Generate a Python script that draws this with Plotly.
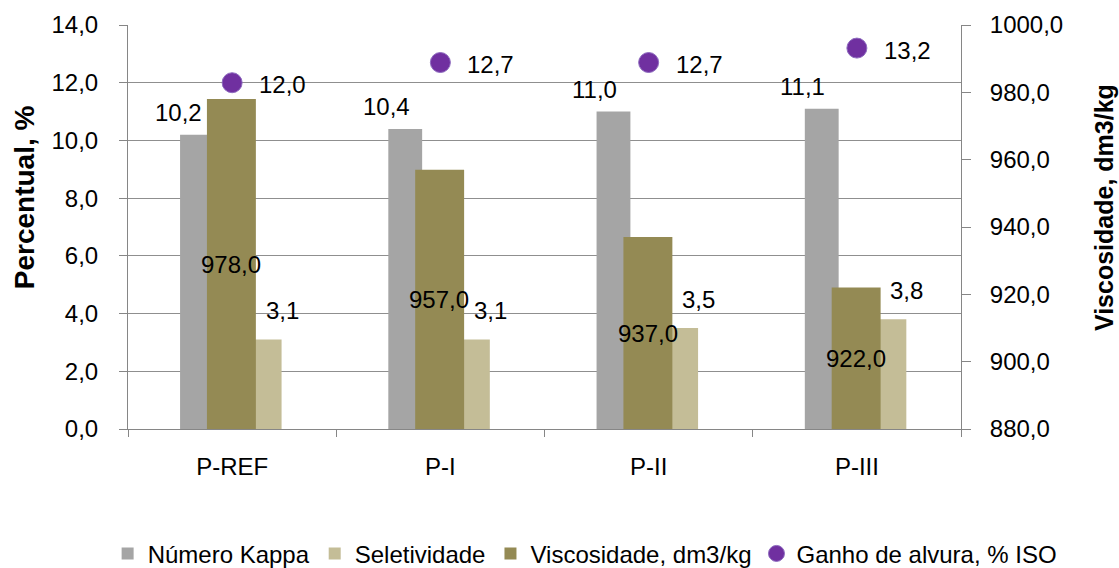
import plotly.graph_objects as go

# Pulp bleaching results per sequence
categories = ["P-REF", "P-I", "P-II", "P-III"]
numero_kappa = [10.2, 10.4, 11.0, 11.1]
seletividade = [3.1, 3.1, 3.5, 3.8]
viscosidade = [978.0, 957.0, 937.0, 922.0]
ganho_alvura = [12.0, 12.7, 12.7, 13.2]

left_ticks = [0, 2, 4, 6, 8, 10, 12, 14]
right_ticks = [880, 900, 920, 940, 960, 980, 1000]

FONT = "Liberation Sans, Arial, sans-serif"
AXIS_GRAY = "#868686"
GRID_GRAY = "#8f8f8f"
C_KAPPA = "#A5A5A5"
C_SELET = "#C4BD97"
C_VISC = "#948A54"
C_GANHO = "#7030A0"

SLOT = 0.1625  # width of one primary-axis bar slot (category units)


def fmt(v):
    return f"{v:.1f}".replace(".", ",")


fig = go.Figure()

fig.add_trace(go.Bar(
    name="Número Kappa", x=categories, y=numero_kappa,
    marker=dict(color=C_KAPPA, line=dict(width=0)),
    width=SLOT, offset=-0.25, yaxis="y",
))
fig.add_trace(go.Bar(
    name="Seletividade", x=categories, y=seletividade,
    marker=dict(color=C_SELET, line=dict(width=0)),
    width=SLOT, offset=-0.25 + 2 * SLOT, yaxis="y",
))
fig.add_trace(go.Bar(
    name="Viscosidade, dm3/kg", x=categories,
    y=[v - 880 for v in viscosidade], base=880,
    marker=dict(color=C_VISC, line=dict(width=0)),
    width=0.235, offset=-0.121, yaxis="y2",
))
fig.add_trace(go.Scatter(
    name="Ganho de alvura, % ISO", x=categories, y=ganho_alvura,
    mode="markers",
    marker=dict(color=C_GANHO, size=20, line=dict(color="#8E6BBF", width=1)),
    yaxis="y",
))

annotations = []
lab_font = dict(family=FONT, size=24, color="#000000")
for c, v in zip(categories, numero_kappa):
    annotations.append(dict(x=c, y=v, xref="x", yref="y", text=fmt(v),
                            showarrow=False, xshift=-54, yshift=22,
                            font=lab_font))
for c, v in zip(categories, seletividade):
    annotations.append(dict(x=c, y=v, xref="x", yref="y", text=fmt(v),
                            showarrow=False, xshift=50, yshift=29,
                            font=lab_font))
for c, v in zip(categories, viscosidade):
    annotations.append(dict(x=c, y=(880 + v) / 2, xref="x", yref="y2",
                            text=fmt(v), showarrow=False, xshift=-1,
                            font=lab_font))
for c, v in zip(categories, ganho_alvura):
    annotations.append(dict(x=c, y=v, xref="x", yref="y", text=fmt(v),
                            showarrow=False, xanchor="left", xshift=25,
                            yshift=-2, font=lab_font))

# Axis titles
annotations.append(dict(x=-0.124, y=0.573, xref="paper", yref="paper",
                        xanchor="center", yanchor="middle",
                        text="<b>Percentual, %</b>", textangle=-90,
                        showarrow=False,
                        font=dict(family=FONT, size=28, color="#000000")))
annotations.append(dict(x=1.171, y=0.548, xref="paper", yref="paper",
                        xanchor="center", yanchor="middle",
                        text="<b>Viscosidade, dm3/kg</b>", textangle=-90,
                        showarrow=False,
                        font=dict(family=FONT, size=25, color="#000000")))

fig.update_layout(
    width=1119, height=568,
    margin=dict(l=128, r=158, t=25, b=139, pad=0, autoexpand=False),
    paper_bgcolor="white", plot_bgcolor="white",
    separators=",.",
    barmode="overlay",
    font=dict(family=FONT, size=24, color="#000000"),
    showlegend=True,
    legend=dict(
        orientation="h", traceorder="normal",
        xref="paper", yref="paper",
        x=1.122, y=-0.309, xanchor="right", yanchor="middle",
        font=dict(family=FONT, size=24, color="#000000"),
        itemwidth=30, bgcolor="rgba(0,0,0,0)",
    ),
    xaxis=dict(
        type="category", range=[-0.5, 3.5],
        showline=True, linecolor=AXIS_GRAY, linewidth=1,
        ticks="outside", tickson="boundaries", ticklen=7,
        tickcolor=AXIS_GRAY, showgrid=False, zeroline=False,
        ticklabelstandoff=16,
        tickfont=dict(family=FONT, size=24, color="#000000"),
    ),
    yaxis=dict(
        range=[0, 14], tickvals=left_ticks, tickformat=".1f",
        showline=True, linecolor=AXIS_GRAY, linewidth=1,
        ticks="outside", ticklen=8, tickcolor=AXIS_GRAY,
        showgrid=True, gridcolor=GRID_GRAY, gridwidth=1,
        zeroline=False, ticklabelstandoff=16,
        tickfont=dict(family=FONT, size=24, color="#000000"),
    ),
    yaxis2=dict(
        range=[880, 1000], tickvals=right_ticks, tickformat=".1f",
        overlaying="y", side="right",
        showline=True, linecolor=AXIS_GRAY, linewidth=1,
        ticks="outside", ticklen=9, tickcolor=AXIS_GRAY,
        showgrid=False, zeroline=False, ticklabelstandoff=14,
        tickfont=dict(family=FONT, size=24, color="#000000"),
    ),
    annotations=annotations,
)

fig.write_html("out.html")
